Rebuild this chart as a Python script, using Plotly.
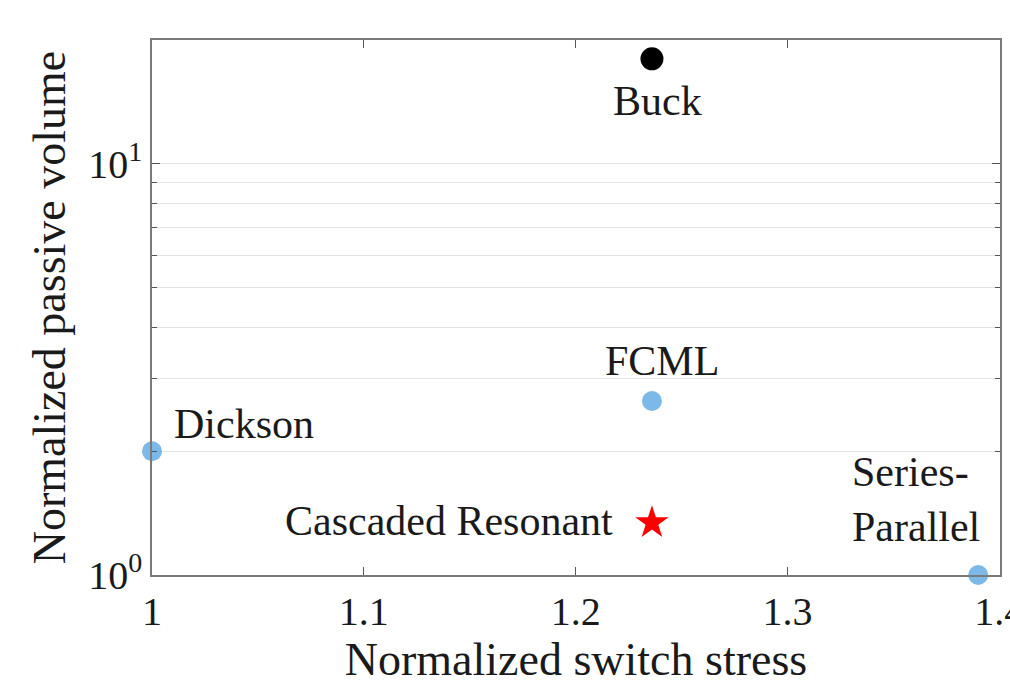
import math
import plotly.graph_objects as go

# Topology comparison: switch stress vs passive volume (both normalized)
topologies = ["Buck", "FCML", "Dickson", "Cascaded Resonant", "Series-Parallel"]
switch_stress = [1.236, 1.236, 1.0, 1.236, 1.39]
passive_volume = [18.0, 2.65, 2.0, 1.34, 1.0]

x_ticks = [1.0, 1.1, 1.2, 1.3, 1.4]
x_ticktext = ["1", "1.1", "1.2", "1.3", "1.4"]
y_ticks = [1, 10]
y_ticktext = ["10<sup>0</sup>", "10<sup>1</sup>"]
y_minor = [2, 3, 4, 5, 6, 7, 8, 9, 20]

FONT = "Liberation Serif"
BLUE = "#7db9e8"
INK = "#1a1a1a"

fig = go.Figure()

# Buck
fig.add_trace(go.Scatter(
    x=[switch_stress[0]], y=[passive_volume[0]], mode="markers",
    marker=dict(color="black", size=23, symbol="circle"),
    cliponaxis=False, showlegend=False))

# Switched-capacitor / hybrid references
fig.add_trace(go.Scatter(
    x=[switch_stress[i] for i in (1, 2, 4)],
    y=[passive_volume[i] for i in (1, 2, 4)], mode="markers",
    marker=dict(color=BLUE, size=20, symbol="circle"),
    cliponaxis=False, showlegend=False))

# Proposed converter
fig.add_trace(go.Scatter(
    x=[switch_stress[3]], y=[passive_volume[3]], mode="markers",
    marker=dict(color="#ff0000", size=25, symbol="star"),
    cliponaxis=False, showlegend=False))

# Point labels (annotation y on a log axis is given in log10 units)
label_font = dict(family=FONT, size=42, color=INK)
label_specs = [
    (0, topologies[0], 6, -42, "center"),
    (1, topologies[1], 10, 40, "center"),
    (2, topologies[2], 20, 27, "left"),
    (3, topologies[3], -37, 2, "right"),
    (4, "Series-<br>Parallel", -128, 76, "left"),
]
annotations = []
for i, text, dx, dy, anchor in label_specs:
    annotations.append(dict(
        x=switch_stress[i], y=math.log10(passive_volume[i]),
        xref="x", yref="y", text=text, showarrow=False,
        xshift=dx, yshift=dy, xanchor=anchor, yanchor="middle",
        align="left", font=label_font))
fig.update_layout(annotations=annotations)

axis_common = dict(
    showline=True, linecolor="#7a7a7a", linewidth=1.5, mirror="ticks",
    ticks="inside", ticklen=8, tickcolor="#555555",
    tickfont=dict(family=FONT, size=40, color=INK),
    ticklabeloverflow="allow",
    zeroline=False, automargin=False,
)

fig.update_xaxes(
    range=[1.0, 1.4003], tickvals=x_ticks, ticktext=x_ticktext, showgrid=False,
    title=dict(text="Normalized switch stress", standoff=4,
               font=dict(family=FONT, size=46, color=INK)),
    **axis_common)

fig.update_yaxes(
    type="log", range=[0, 1.30103], tickvals=y_ticks, ticktext=y_ticktext,
    showgrid=True, gridcolor="#e4e4e4", gridwidth=1.2,
    minor=dict(tickvals=y_minor, ticks="inside", ticklen=5, tickcolor="#555555",
               showgrid=True, gridcolor="#e4e4e4", gridwidth=1.2),
    title=dict(text="Normalized passive volume", standoff=8,
               font=dict(family=FONT, size=46, color=INK)),
    **axis_common)

fig.update_layout(
    width=1010, height=688,
    margin=dict(l=152, r=10, t=40, b=113),
    paper_bgcolor="white", plot_bgcolor="white",
)

fig.write_html("out.html")
